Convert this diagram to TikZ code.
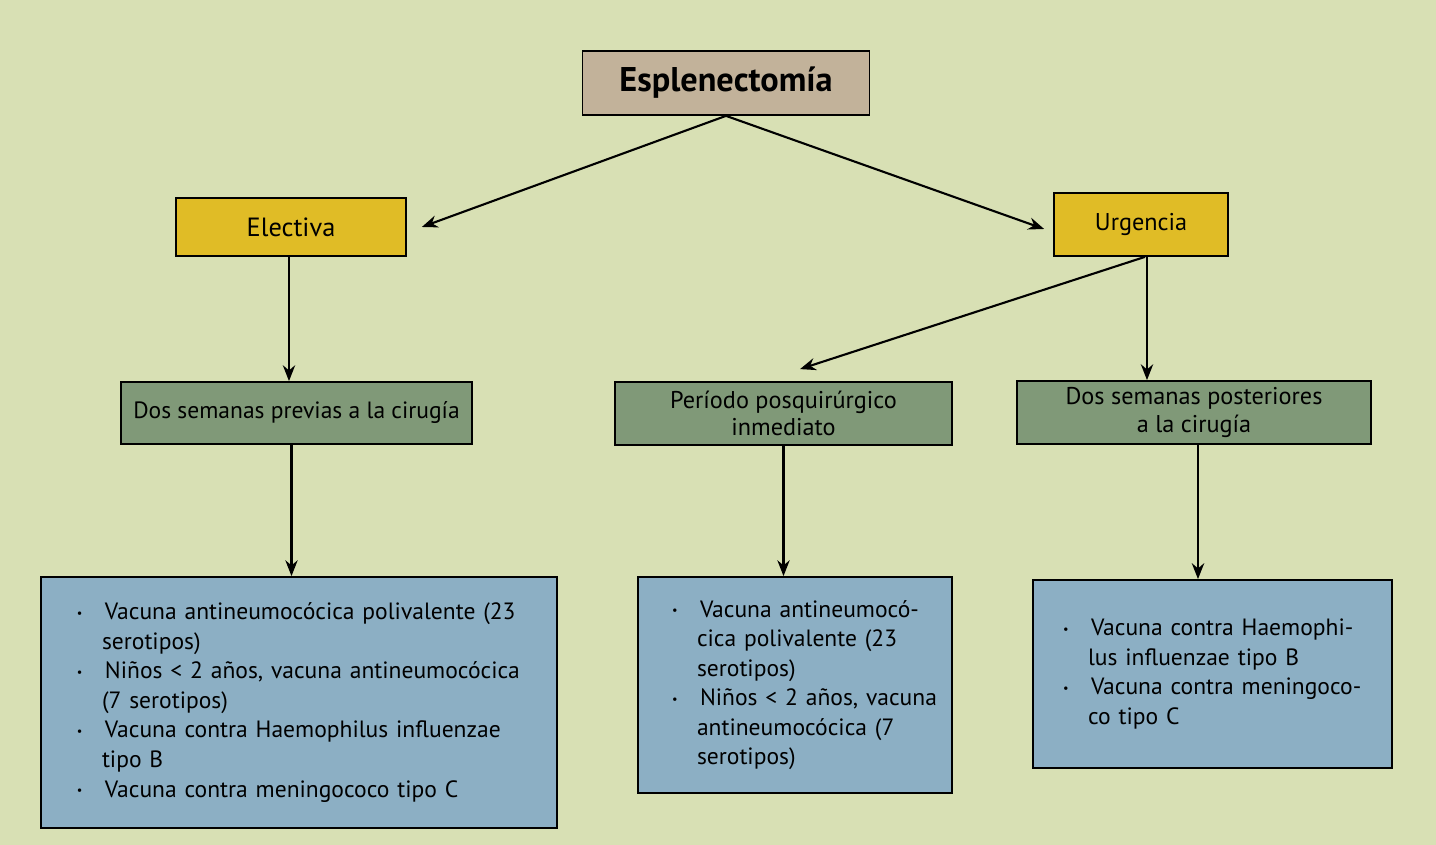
\documentclass[tikz,border=0pt]{standalone}
\usepackage{fontspec}
\setmainfont{PT Sans}
\usepackage{xcolor}
\usetikzlibrary{arrows.meta}

\definecolor{fondo}{RGB}{216,224,180}
\definecolor{cafe}{RGB}{194,178,154}
\definecolor{amarillo}{RGB}{224,188,38}
\definecolor{verde}{RGB}{128,153,120}
\definecolor{azul}{RGB}{140,175,196}

\newcommand{\vitem}[1]{\hangindent=0.5cm\hangafter=1\noindent\makebox[0.56cm][l]{\raisebox{0.2ex}{\scriptsize\textbullet}}#1\par}

\begin{document}
\begin{tikzpicture}[
        caja/.style={draw=black, line width=1pt, inner sep=0pt, align=center, font=\fontsize{13.8}{15.5}\selectfont},
        lista/.style={draw=black, line width=1pt, fill=azul, inner xsep=0.3cm, inner ysep=0pt, align=left,
            font=\fontsize{13.4}{16.8}\selectfont, execute at begin node={\setlength{\leftskip}{#1}\hyphenpenalty=10000}},
        flecha/.style={black, line width=1.2pt, -{Stealth[length=9pt,width=7pt]}}
    ]
        \useasboundingbox [fill=fondo] (0,0) rectangle (28.72,16.9);

        % niveles superiores
        \node [caja, fill=cafe, minimum width=5.74cm, minimum height=1.28cm, font=\fontsize{19.5}{22}\selectfont\bfseries] (esp) at (14.52,15.24) {Esplenectomía};
        \node [caja, fill=amarillo, minimum width=4.6cm, minimum height=1.16cm, font=\fontsize{15}{17}\selectfont] (ele) at (5.82,12.36) {Electiva};
        \node [caja, fill=amarillo, minimum width=3.48cm, minimum height=1.26cm] (urg) at (22.82,12.41) {Urgencia};

        % momentos
        \node [caja, fill=verde, minimum width=7.02cm, minimum height=1.24cm, font=\fontsize{13.4}{15.5}\selectfont] (pre) at (5.93,8.64) {Dos semanas previas a la cirugía};
        \node [caja, fill=verde, minimum width=6.74cm, minimum height=1.26cm] (per) at (15.67,8.63) {Período posquirúrgico\\inmediato};
        \node [caja, fill=verde, minimum width=7.08cm, minimum height=1.26cm] (pos) at (23.88,8.65) {Dos semanas posteriores\\a la cirugía};

        % vacunas
        \node [lista=0.42cm, text width=9.72cm, minimum height=5.02cm] (vac1) at (5.98,2.85) {%
            \vitem{Vacuna antineumocócica polivalente (23\newline serotipos)}
            \vitem{Niños < 2 años, vacuna antineumocócica\newline (7 serotipos)}
            \vitem{Vacuna contra Haemophilus influenzae\newline tipo B}
            \vitem{Vacuna contra meningococo tipo C}};
        \node [lista=0.38cm, text width=5.68cm, minimum height=4.32cm] (vac2) at (15.9,3.2) {%
            \vitem{Vacuna antineumocó-\newline cica polivalente (23\newline serotipos)}
            \vitem{Niños < 2 años, vacuna\newline antineumocócica (7\newline serotipos)}};
        \node [lista=0.3cm, text width=6.58cm, minimum height=3.76cm] (vac3) at (24.25,3.42) {%
            \vitem{Vacuna contra Haemophi-\newline lus influenzae tipo B}
            \vitem{Vacuna contra meningoco-\newline co tipo C}};

        \draw [flecha] (esp.south) to ([xshift=0.3cm]ele.east);
        \draw [flecha] (esp.south) to ([xshift=-0.18cm,yshift=-0.09cm]urg.west);
        \draw [flecha] ([xshift=-0.04cm]ele.south) to ([xshift=-0.04cm]ele.south |- pre.north);
        \draw [flecha] ([xshift=0.08cm]urg.south) to ([xshift=0.33cm,yshift=0.24cm]per.north);
        \draw [flecha] ([xshift=0.12cm]urg.south) to ([xshift=0.12cm]urg.south |- pos.north);
        \draw [flecha] ([xshift=-0.1cm]pre.south) to ([xshift=-0.1cm]pre.south |- vac1.north);
        \draw [flecha] (per.south) to (per.south |- vac2.north);
        \draw [flecha, line width=1.6pt] ([xshift=0.08cm]pos.south) to ([xshift=0.08cm]pos.south |- vac3.north);
    \end{tikzpicture}
\end{document}
